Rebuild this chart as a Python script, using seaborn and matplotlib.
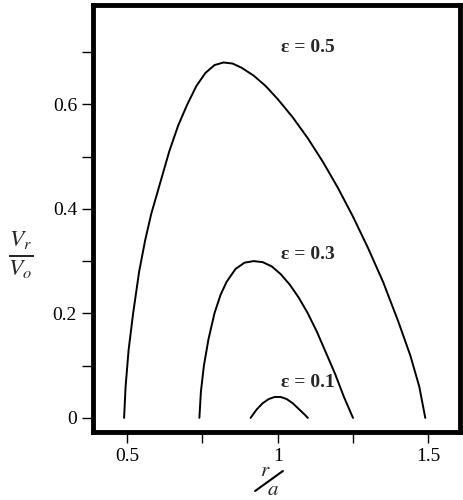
import numpy as np
import pandas as pd
import seaborn as sns
import matplotlib.pyplot as plt
from matplotlib.lines import Line2D

# curve samples
x_05 = [0.49, 0.495, 0.505, 0.52, 0.54, 0.56, 0.58, 0.61, 0.64, 0.67, 0.70, 0.73, 0.76, 0.79, 0.82, 0.85,
        0.88, 0.92, 0.96, 1.00, 1.05, 1.10, 1.15, 1.20, 1.25, 1.30, 1.35, 1.40, 1.44, 1.47, 1.49]
y_05 = [0.0, 0.06, 0.13, 0.20, 0.28, 0.34, 0.39, 0.45, 0.51, 0.56, 0.60, 0.635, 0.66, 0.675, 0.68, 0.678,
        0.67, 0.655, 0.635, 0.61, 0.575, 0.535, 0.49, 0.44, 0.385, 0.325, 0.26, 0.185, 0.12, 0.06, 0.0]
x_03 = [0.74, 0.745, 0.755, 0.77, 0.79, 0.81, 0.83, 0.86, 0.89, 0.92, 0.95, 0.98, 1.01, 1.04, 1.07,
        1.10, 1.13, 1.16, 1.19, 1.22, 1.25]
y_03 = [0.0, 0.05, 0.10, 0.15, 0.20, 0.235, 0.26, 0.285, 0.297, 0.30, 0.298, 0.29, 0.275, 0.255, 0.23,
        0.20, 0.165, 0.125, 0.085, 0.04, 0.0]
x_01 = [0.91, 0.93, 0.95, 0.97, 0.99, 1.01, 1.03, 1.05, 1.07, 1.09, 1.10]
y_01 = [0.0, 0.016, 0.028, 0.036, 0.04, 0.04, 0.036, 0.028, 0.017, 0.006, 0.0]
labels = ["ε = 0.5", "ε = 0.3", "ε = 0.1"]

sns.set_style("ticks")
plt.rcParams["font.family"] = ["Liberation Serif", "DejaVu Serif"]
plt.rcParams["mathtext.fontset"] = "stix"

fig = plt.figure(figsize=(4.63, 5), dpi=100)
ax = fig.add_axes([0.201, 0.136, 0.793, 0.854])

for xs, ys in [(x_05, y_05), (x_03, y_03), (x_01, y_01)]:
    df = pd.DataFrame({"x": xs, "y": ys})
    sns.lineplot(data=df, x="x", y="y", ax=ax, color="black", linewidth=1.4, sort=False)

for lx, ly, lab in [(1.10, 0.708, labels[0]), (1.10, 0.312, labels[1]), (1.10, 0.067, labels[2])]:
    ax.text(lx, ly, lab, fontsize=14, ha="center", va="center", fontweight="semibold")

ax.set_xlim(0.387, 1.606)
ax.set_ylim(-0.027, 0.79)
ax.set_xticks([0.5, 0.75, 1.0, 1.25, 1.5])
ax.set_xticklabels(["0.5", "", "1", "", "1.5"])
ax.set_yticks([0, 0.1, 0.2, 0.3, 0.4, 0.5, 0.6, 0.7])
ax.set_yticklabels(["0", "", "0.2", "", "0.4", "", "0.6", ""])
ax.tick_params(direction="out", length=8, width=1, labelsize=14, color="black", labelcolor="black")
for s in ax.spines.values():
    s.set_linewidth(3.5)
    s.set_color("black")
    s.set_visible(True)
ax.set_xlabel("")
ax.set_ylabel("")
fig.text(0.045, 0.49, r"$\frac{V_r}{V_o}$", fontsize=24, ha="center", va="center")
# r/a drawn as a slanted fraction: r above the stroke, a below it
fig.text(0.572, 0.056, r"$r$", fontsize=15, ha="center", va="center")
fig.text(0.589, 0.019, r"$a$", fontsize=15, ha="center", va="center")
fig.add_artist(Line2D([0.551, 0.611], [0.018, 0.058], transform=fig.transFigure, color="black", linewidth=1.5))

fig.savefig("out.png", dpi=100)
